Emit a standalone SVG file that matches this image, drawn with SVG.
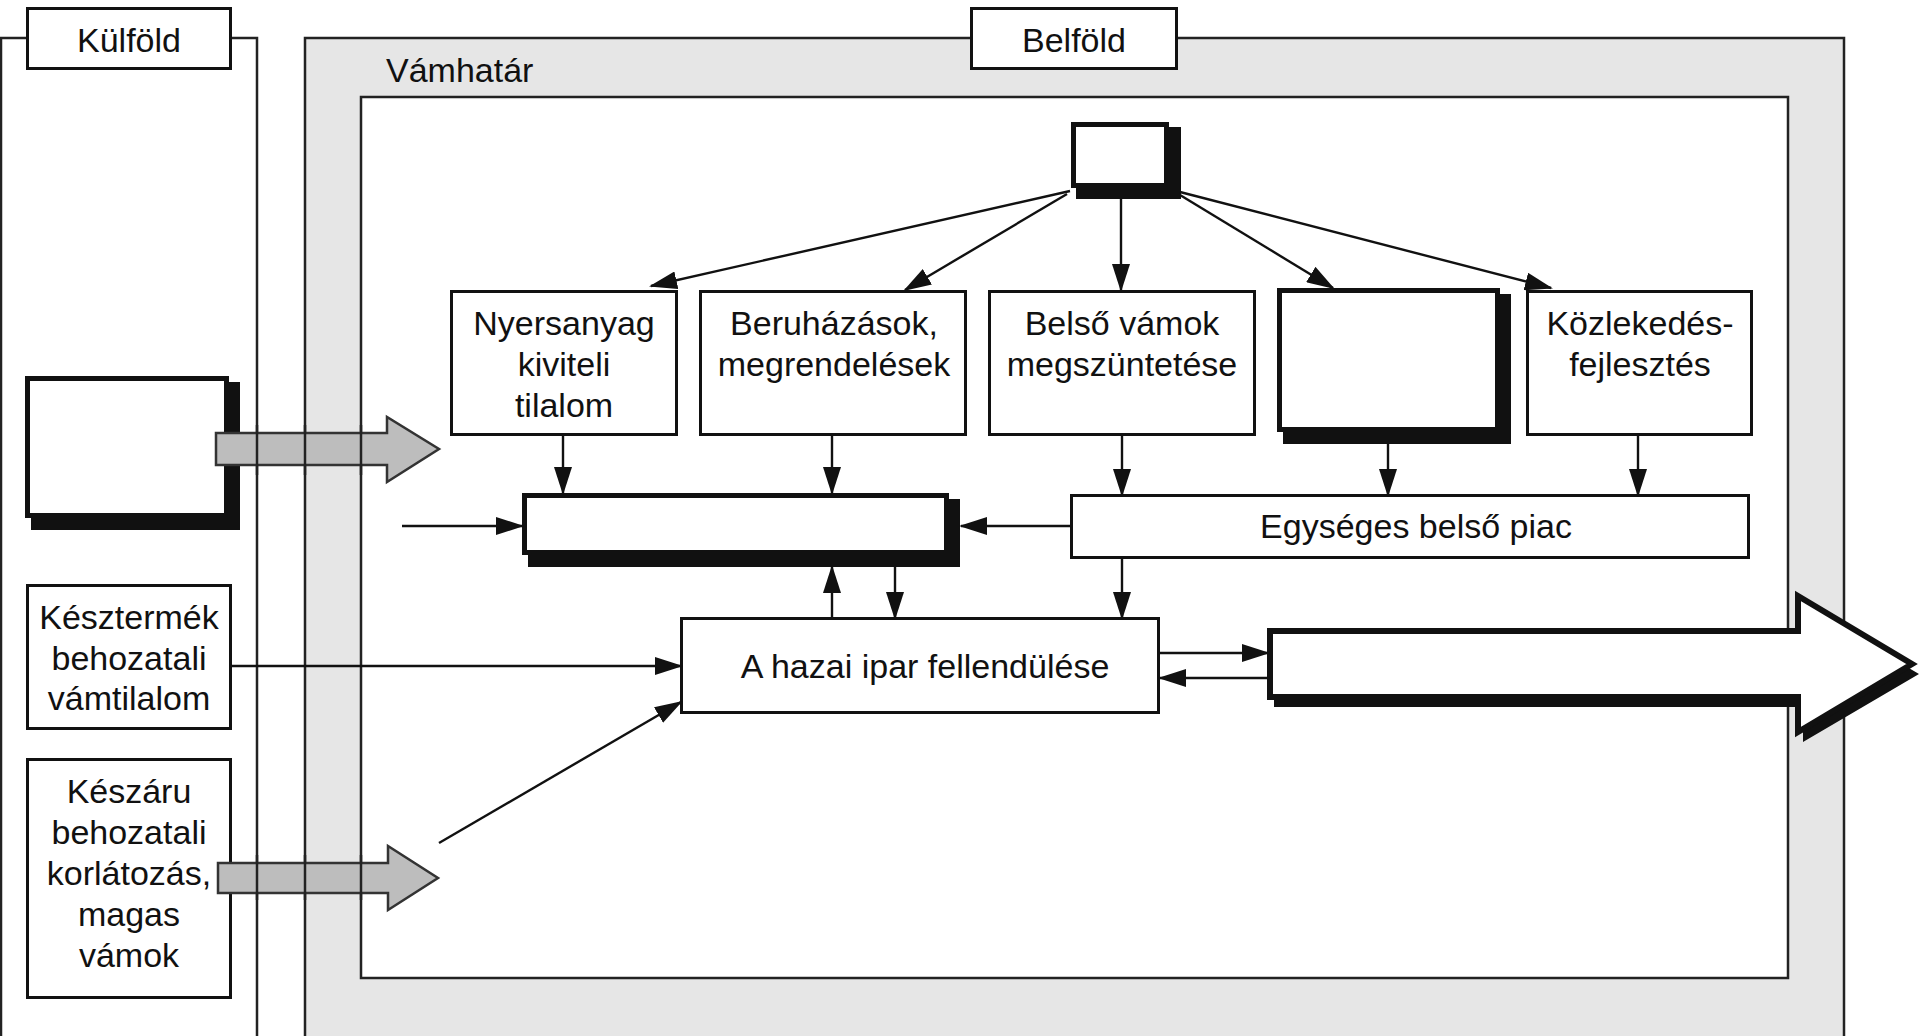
<svg xmlns="http://www.w3.org/2000/svg" width="1920" height="1036" viewBox="0 0 1920 1036">
<defs>
<marker id="ah" markerUnits="userSpaceOnUse" markerWidth="28" markerHeight="18" refX="26" refY="9" orient="auto">
<path d="M0,0 L28,9 L0,18 z" fill="#111"/>
</marker>
</defs>
<style>
text{font-family:"Liberation Sans",Arial,sans-serif;font-size:34px;fill:#111}
.c{text-anchor:middle}
.frame{fill:none;stroke:#222;stroke-width:2.5}
.box{fill:#fff;stroke:#111;stroke-width:3}
.thick{fill:#fff;stroke:#111;stroke-width:5}
.shadow{fill:#111}
.garrow{fill:#bdbdbd;stroke:#333;stroke-width:2.5}
.conn line{stroke:#111;stroke-width:2.4;marker-end:url(#ah)}
</style>
<rect width="1920" height="1036" fill="#fff"/>
<g id="frames-fill">
<rect x="305" y="38" width="1539" height="1100" fill="#e6e6e6"/>
<rect x="361" y="97" width="1427" height="881" fill="#fff"/>
</g>
<g id="frames">
<path class="frame" d="M1,1040 V38 H257 V1040"/>
<rect class="frame" x="305" y="38" width="1539" height="1100"/>
<rect class="frame" x="361" y="97" width="1427" height="881"/>
<text x="386" y="82">Vámhatár</text>
</g>
<g id="kulfold">
<rect class="box" x="27.5" y="8.5" width="203" height="60"/>
<text class="c" x="129" y="52">Külföld</text>
</g>
<g id="belfold">
<rect class="box" x="971.5" y="8.5" width="205" height="60"/>
<text class="c" x="1074" y="52">Belföld</text>
</g>
<g id="top-box">
<rect class="shadow" x="1076" y="127" width="105" height="72"/>
<rect class="thick" x="1073.5" y="124.5" width="93" height="61"/>
</g>
<g id="nyersanyag">
<rect class="box" x="451.5" y="291.5" width="225" height="143"/>
<text class="c" x="564" y="335">Nyersanyag</text>
<text class="c" x="564" y="376">kiviteli</text>
<text class="c" x="564" y="417">tilalom</text>
</g>
<g id="beruhazasok">
<rect class="box" x="700.5" y="291.5" width="265" height="143"/>
<text class="c" x="834" y="335">Beruházások,</text>
<text class="c" x="834" y="376">megrendelések</text>
</g>
<g id="belso-vamok">
<rect class="box" x="989.5" y="291.5" width="265" height="143"/>
<text class="c" x="1122" y="335">Belső vámok</text>
<text class="c" x="1122" y="376">megszüntetése</text>
</g>
<g id="blank-box-4">
<rect class="shadow" x="1283" y="294" width="228" height="150"/>
<rect class="thick" x="1279.5" y="290.5" width="218" height="139"/>
</g>
<g id="kozlekedes">
<rect class="box" x="1527.5" y="291.5" width="224" height="143"/>
<text class="c" x="1640" y="335">Közlekedés-</text>
<text class="c" x="1640" y="376">fejlesztés</text>
</g>
<g id="left-box">
<rect class="shadow" x="31" y="382" width="209" height="148"/>
<rect class="thick" x="27.5" y="378.5" width="199" height="137"/>
</g>
<g id="central-box">
<rect class="shadow" x="528" y="499" width="432" height="68"/>
<rect class="thick" x="524.5" y="495.5" width="422" height="57"/>
</g>
<g id="egyseges">
<rect class="box" x="1071.5" y="495.5" width="677" height="62"/>
<text class="c" x="1416" y="538">Egységes belső piac</text>
</g>
<g id="hazai-ipar">
<rect class="box" x="681.5" y="618.5" width="477" height="94"/>
<text class="c" x="925" y="678">A hazai ipar fellendülése</text>
</g>
<g id="keszttermek">
<rect class="box" x="27.5" y="585.5" width="203" height="143"/>
<text class="c" x="129" y="629">Késztermék</text>
<text class="c" x="129" y="670">behozatali</text>
<text class="c" x="129" y="710">vámtilalom</text>
</g>
<g id="keszaru">
<rect class="box" x="27.5" y="759.5" width="203" height="238"/>
<text class="c" x="129" y="803">Készáru</text>
<text class="c" x="129" y="844">behozatali</text>
<text class="c" x="129" y="885">korlátozás,</text>
<text class="c" x="129" y="926">magas</text>
<text class="c" x="129" y="967">vámok</text>
</g>
<g id="gray-arrows">
<polygon class="garrow" points="216,433 387,433 387,417 439,449 387,482 387,465 216,465"/>
<polygon class="garrow" points="218,863 388,863 388,846 438,878 388,910 388,893 218,893"/>
</g>
<g id="frame-lines-over" stroke="#222" stroke-width="2.5">
<line x1="257" y1="425" x2="257" y2="475"/>
<line x1="305" y1="425" x2="305" y2="475"/>
<line x1="361" y1="425" x2="361" y2="475"/>
<line x1="257" y1="855" x2="257" y2="900"/>
<line x1="305" y1="855" x2="305" y2="900"/>
<line x1="361" y1="855" x2="361" y2="900"/>
</g>
<g id="connectors" class="conn">
<line x1="1070" y1="191" x2="651" y2="286"/>
<line x1="1067" y1="194" x2="905" y2="290"/>
<line x1="1121" y1="199" x2="1121" y2="290"/>
<line x1="1180" y1="195" x2="1333" y2="288"/>
<line x1="1180" y1="192" x2="1551" y2="288"/>
<line x1="563" y1="435" x2="563" y2="493"/>
<line x1="832" y1="435" x2="832" y2="493"/>
<line x1="1122" y1="435" x2="1122" y2="495"/>
<line x1="1388" y1="444" x2="1388" y2="495"/>
<line x1="1638" y1="435" x2="1638" y2="495"/>
<line x1="402" y1="526" x2="522" y2="526"/>
<line x1="1071" y1="526" x2="961" y2="526"/>
<line x1="1122" y1="558" x2="1122" y2="618"/>
<line x1="832" y1="618" x2="832" y2="567"/>
<line x1="895" y1="567" x2="895" y2="618"/>
<line x1="231" y1="666" x2="681" y2="666"/>
<line x1="439" y1="843" x2="681" y2="702"/>
<line x1="1159" y1="653" x2="1268" y2="653"/>
<line x1="1268" y1="678" x2="1160" y2="678"/>
</g>
<g id="export-arrow">
<polygon class="shadow" points="1274,641 1803,641 1803,606 1919,674 1803,742 1803,707 1274,707"/>
<polygon fill="#fff" stroke="#111" stroke-width="6" stroke-linejoin="miter" points="1270,631 1798,631 1798,596 1912,664 1798,732 1798,697 1270,697"/>
</g>
</svg>
